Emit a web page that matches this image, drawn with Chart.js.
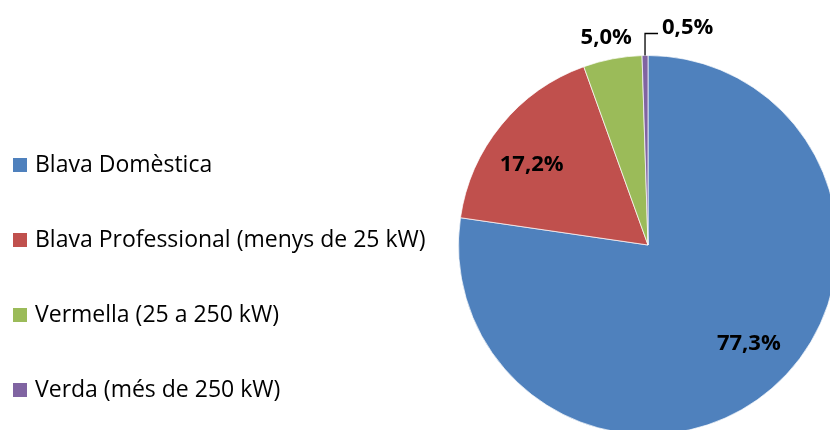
<!DOCTYPE html>
<html>
<head>
<meta charset="utf-8">
<script src="https://cdn.jsdelivr.net/npm/chart.js@4"></script>
<style>
  html, body { margin: 0; padding: 0; background: #fff; overflow: hidden; width: 830px; height: 430px; }
  #wrap { position: absolute; left: 0; top: 0; width: 850px; height: 450px; }
</style>
</head>
<body>
<div id="wrap"><canvas id="c" width="850" height="450"></canvas></div>
<script>
const categories = [
  'Blava Domèstica',
  'Blava Professional (menys de 25 kW)',
  'Vermella (25 a 250 kW)',
  'Verda (més de 250 kW)'
];
const shares = [77.3, 17.2, 5.0, 0.5];
const sliceColors = ['#4F81BD', '#C0504D', '#9BBB59', '#8064A2'];

const fmt = v => v.toFixed(1).replace('.', ',') + '%';

const legendPlugin = {
  id: 'sideLegend',
  afterDraw(chart) {
    const ctx = chart.ctx;
    ctx.save();
    ctx.font = '23px "Open Sans"';
    ctx.textBaseline = 'middle';
    ctx.textAlign = 'left';
    const firstY = 165, step = 75;
    chart.data.labels.forEach((lab, i) => {
      const cy = firstY + i * step;
      ctx.fillStyle = chart.data.datasets[0].backgroundColor[i];
      ctx.fillRect(13, cy - 7, 14, 14);
      ctx.fillStyle = '#000';
      ctx.fillText(lab, 35, cy);
    });
    ctx.restore();
  }
};

const labelPlugin = {
  id: 'sliceLabels',
  afterDatasetsDraw(chart) {
    const ctx = chart.ctx;
    const meta = chart.getDatasetMeta(0);
    const data = chart.data.datasets[0].data;
    const total = data.reduce((a, b) => a + b, 0);
    ctx.save();
    ctx.font = 'bold 22px "Open Sans"';
    ctx.fillStyle = '#000';
    ctx.strokeStyle = '#000';
    ctx.lineWidth = 1.3;
    meta.data.forEach((arc, i) => {
      const p = arc.getProps(['x', 'y', 'startAngle', 'endAngle', 'outerRadius'], true);
      const mid = (p.startAngle + p.endAngle) / 2;
      const frac = data[i] / total;
      const txt = fmt(data[i]);
      if (frac > 0.10) {
        const r = p.outerRadius * 0.745;
        const a = mid - 0.082;
        ctx.textAlign = 'center';
        ctx.textBaseline = 'middle';
        ctx.fillText(txt, p.x + r * Math.cos(a), p.y + r * Math.sin(a));
      } else if (frac > 0.02) {
        const r = p.outerRadius + 12;
        ctx.textAlign = 'center';
        ctx.textBaseline = 'alphabetic';
        ctx.fillText(txt, p.x + r * Math.cos(mid) - 4, p.y + r * Math.sin(mid) - 3);
      } else {
        const ex = p.x + p.outerRadius * Math.cos(mid);
        const ey = p.y + p.outerRadius * Math.sin(mid);
        const ky = ey - 22;
        ctx.beginPath();
        ctx.moveTo(ex, ey);
        ctx.lineTo(ex, ky);
        ctx.lineTo(ex + 13, ky);
        ctx.stroke();
        ctx.textAlign = 'left';
        ctx.textBaseline = 'alphabetic';
        ctx.fillText(txt, ex + 17, ky);
      }
    });
    ctx.restore();
  }
};

new Chart(document.getElementById('c'), {
  type: 'pie',
  data: {
    labels: categories,
    datasets: [{
      data: shares,
      backgroundColor: sliceColors,
      borderColor: 'rgba(255,255,255,0.7)',
      borderWidth: 1
    }]
  },
  options: {
    responsive: false,
    animation: false,
    events: [],
    layout: { padding: { left: 458, top: 55, right: 12, bottom: 15 } },
    plugins: {
      legend: { display: false },
      tooltip: { enabled: false },
      title: { display: false }
    }
  },
  plugins: [legendPlugin, labelPlugin]
});
</script>
</body>
</html>
